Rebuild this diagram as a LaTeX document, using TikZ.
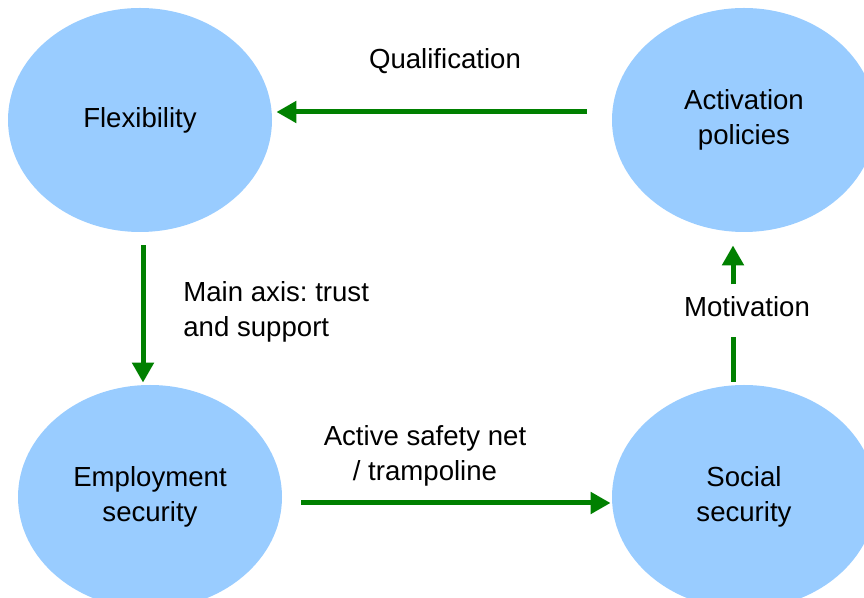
\documentclass[tikz,border=0pt]{standalone}
\usepackage{fontspec}
\setmainfont{Liberation Sans}
\usetikzlibrary{positioning,calc,arrows.meta,shapes.geometric}
\frenchspacing

\definecolor{bubble}{HTML}{99CCFF}
\definecolor{flowgreen}{HTML}{008000}

\tikzset{
	pillar/.style={ellipse, fill=bubble, minimum width=132pt, minimum height=112pt, inner sep=0pt, align=center},
	flowbar/.style={draw=flowgreen, line width=2.5pt},
	flow/.style={flowbar, -{Triangle[length=10pt,width=10.5pt]}},
	tag/.style={inner sep=0pt, align=center}
}

\begin{document}
\begin{tikzpicture}[x=0.5pt,y=-0.5pt, every node/.style={font=\fontsize{13.8pt}{17.5pt}\selectfont}]
		
		\useasboundingbox (0,0) rectangle (864,598);
		\clip (0,0) rectangle (864,598);
		
		% the four pillars
		\node[pillar] (flex) at (140,120) {Flexibility};
		\node[pillar] (act) at (744,120) {Activation\\policies};
		\node[pillar] (emp) at (150,497) {Employment\\security};
		\node[pillar] (soc) at (744,497) {Social\\security};
		
		% labels on the links
		\node[tag] (qual) at (445,61) {Qualification};
		\node[tag, anchor=west, align=left] (axis) at (183,312) {Main axis: trust\\and support};
		\node[tag] (net) at (425,456) {Active safety net\\/ trampoline};
		\node[tag] (motiv) at (747,307) {Motivation};
		
		% links
		\draw[flow, shorten <=12.5pt, shorten >=2pt] ([yshift=4pt]act.west) -- ([yshift=4pt]flex.east);
		\draw[flow, shorten <=6.5pt, shorten >=1pt] ([xshift=1.5pt]flex.south) -- ([xshift=1.5pt]flex.south |- emp.north);
		\draw[flow, shorten <=9.5pt, shorten >=0.5pt] ([yshift=-3pt]emp.east) -- ([yshift=-3pt]soc.west);
		
		% broken at the label
		\draw[flowbar, shorten <=1.5pt, shorten >=9.5pt] ([xshift=-5.5pt]soc.north) -- ([xshift=-5.5pt]soc.north |- motiv.south);
		\draw[flow, shorten <=6pt, shorten >=6.5pt] ([xshift=-5.5pt]soc.north |- motiv.north) -- ([xshift=-5.5pt]act.south);
		
	\end{tikzpicture}
\end{document}
